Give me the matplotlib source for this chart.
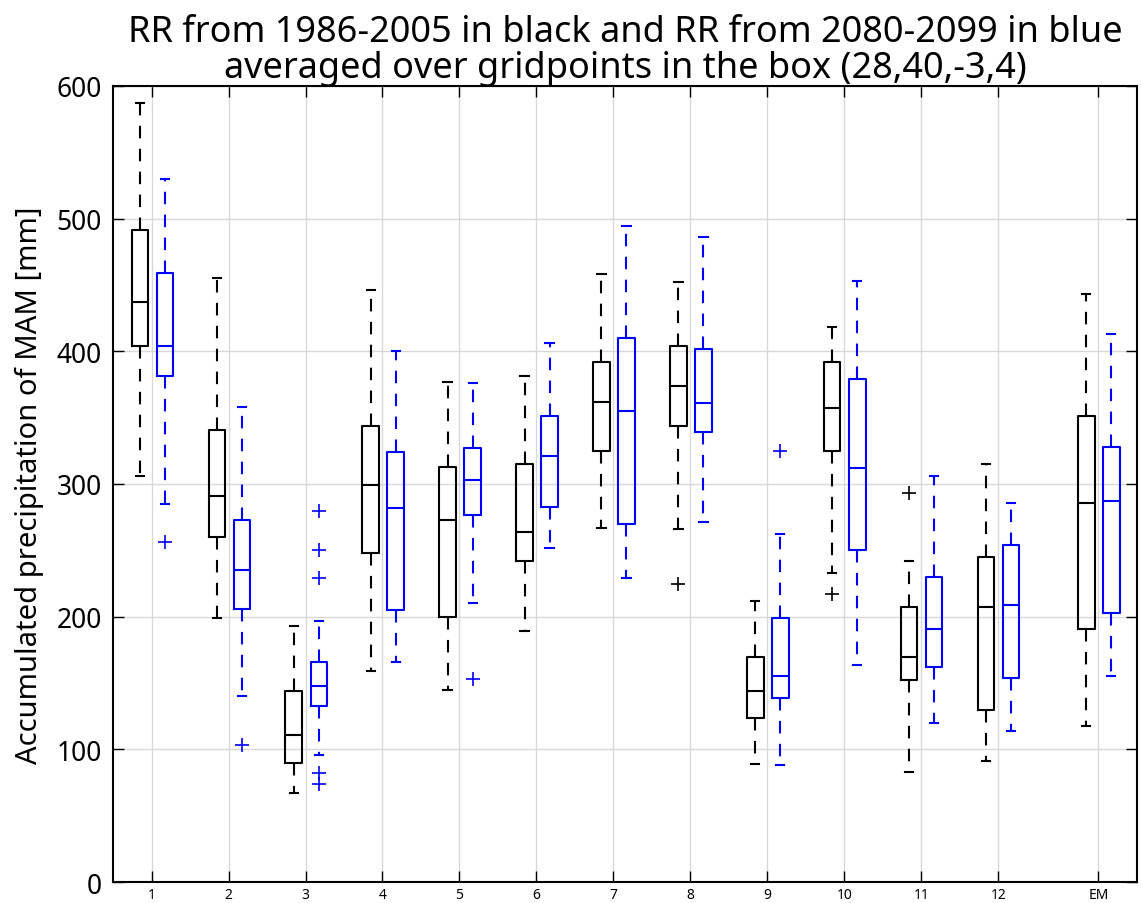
import numpy as np
import matplotlib
matplotlib.use('Agg')
import matplotlib.pyplot as plt

plt.rcParams['font.family'] = ['Noto Sans', 'DejaVu Sans']

# Box statistics per month, 1986-2005 (black) and 2080-2099 (blue)
labels = ['1', '2', '3', '4', '5', '6', '7', '8', '9', '10', '11', '12', 'EM']

hist_lo  = [306, 199, 67, 159, 145, 189, 267, 266, 89, 233, 83, 91, 118]
hist_q1  = [404, 260, 90, 248, 200, 242, 325, 344, 124, 325, 152, 130, 191]
hist_med = [437, 291, 111, 299, 273, 264, 362, 374, 144, 357, 170, 207, 286]
hist_q3  = [491, 341, 144, 344, 313, 315, 392, 404, 170, 392, 207, 245, 351]
hist_hi  = [587, 455, 193, 446, 377, 381, 458, 452, 212, 418, 242, 315, 443]
hist_fl  = [[], [], [], [], [], [], [], [225], [], [217], [293], [], []]

fut_lo  = [285, 140, 96, 166, 210, 252, 229, 271, 88, 164, 120, 114, 155]
fut_q1  = [381, 206, 133, 205, 277, 283, 270, 339, 139, 250, 162, 154, 203]
fut_med = [404, 235, 148, 282, 303, 321, 355, 361, 155, 312, 191, 209, 287]
fut_q3  = [459, 273, 166, 324, 327, 351, 410, 402, 199, 379, 230, 254, 328]
fut_hi  = [530, 358, 197, 400, 376, 406, 494, 486, 262, 453, 306, 286, 413]
fut_fl  = [[256], [103], [280, 250, 229, 82, 74], [], [153], [], [], [], [325], [], [], [], []]

ticks = [1, 2, 3, 4, 5, 6, 7, 8, 9, 10, 11, 12, 13.3]


def make_stats(lo, q1, med, q3, hi, fl):
    return [dict(whislo=a, q1=b, med=c, q3=d, whishi=e, fliers=f)
            for a, b, c, d, e, f in zip(lo, q1, med, q3, hi, fl)]


def draw(ax, stats, pos, color):
    ax.bxp(stats, positions=pos, widths=0.21, manage_ticks=False,
           boxprops=dict(color=color, lw=1.5),
           medianprops=dict(color=color, lw=1.5),
           whiskerprops=dict(color=color, lw=1.5, ls=(0, (6, 5))),
           capprops=dict(color=color, lw=1.5),
           flierprops=dict(marker='+', markeredgecolor=color, markersize=10,
                           markeredgewidth=1.2, ls='none'))


fig = plt.figure(figsize=(11.42, 9.04), dpi=100)
ax = fig.add_axes([0.099, 0.023, 0.8965, 0.881])

tk = np.array(ticks)
draw(ax, make_stats(hist_lo, hist_q1, hist_med, hist_q3, hist_hi, hist_fl), tk - 0.155, 'black')
draw(ax, make_stats(fut_lo, fut_q1, fut_med, fut_q3, fut_hi, fut_fl), tk + 0.17, 'blue')

ax.set_xlim(0.5, 13.8)
ax.set_ylim(0, 600)
ax.set_xticks(ticks)
ax.set_xticklabels(labels, fontsize=10)
ax.set_yticks(np.arange(0, 601, 100))
ax.tick_params(axis='y', labelsize=19, pad=8)
ax.tick_params(direction='in', top=True, right=True, length=8, width=1)
ax.grid(True, color='#d9d9d9', lw=1)
ax.set_axisbelow(True)
for s in ax.spines.values():
    s.set_linewidth(1.5)

ax.set_ylabel('Accumulated precipitation of MAM [mm]', fontsize=21, labelpad=9)
ax.set_title('RR from 1986-2005 in black and RR from 2080-2099 in blue\n'
             'averaged over gridpoints in the box (28,40,-3,4)', fontsize=26,
             linespacing=1.0, pad=6)

fig.savefig('out.png', dpi=100)
